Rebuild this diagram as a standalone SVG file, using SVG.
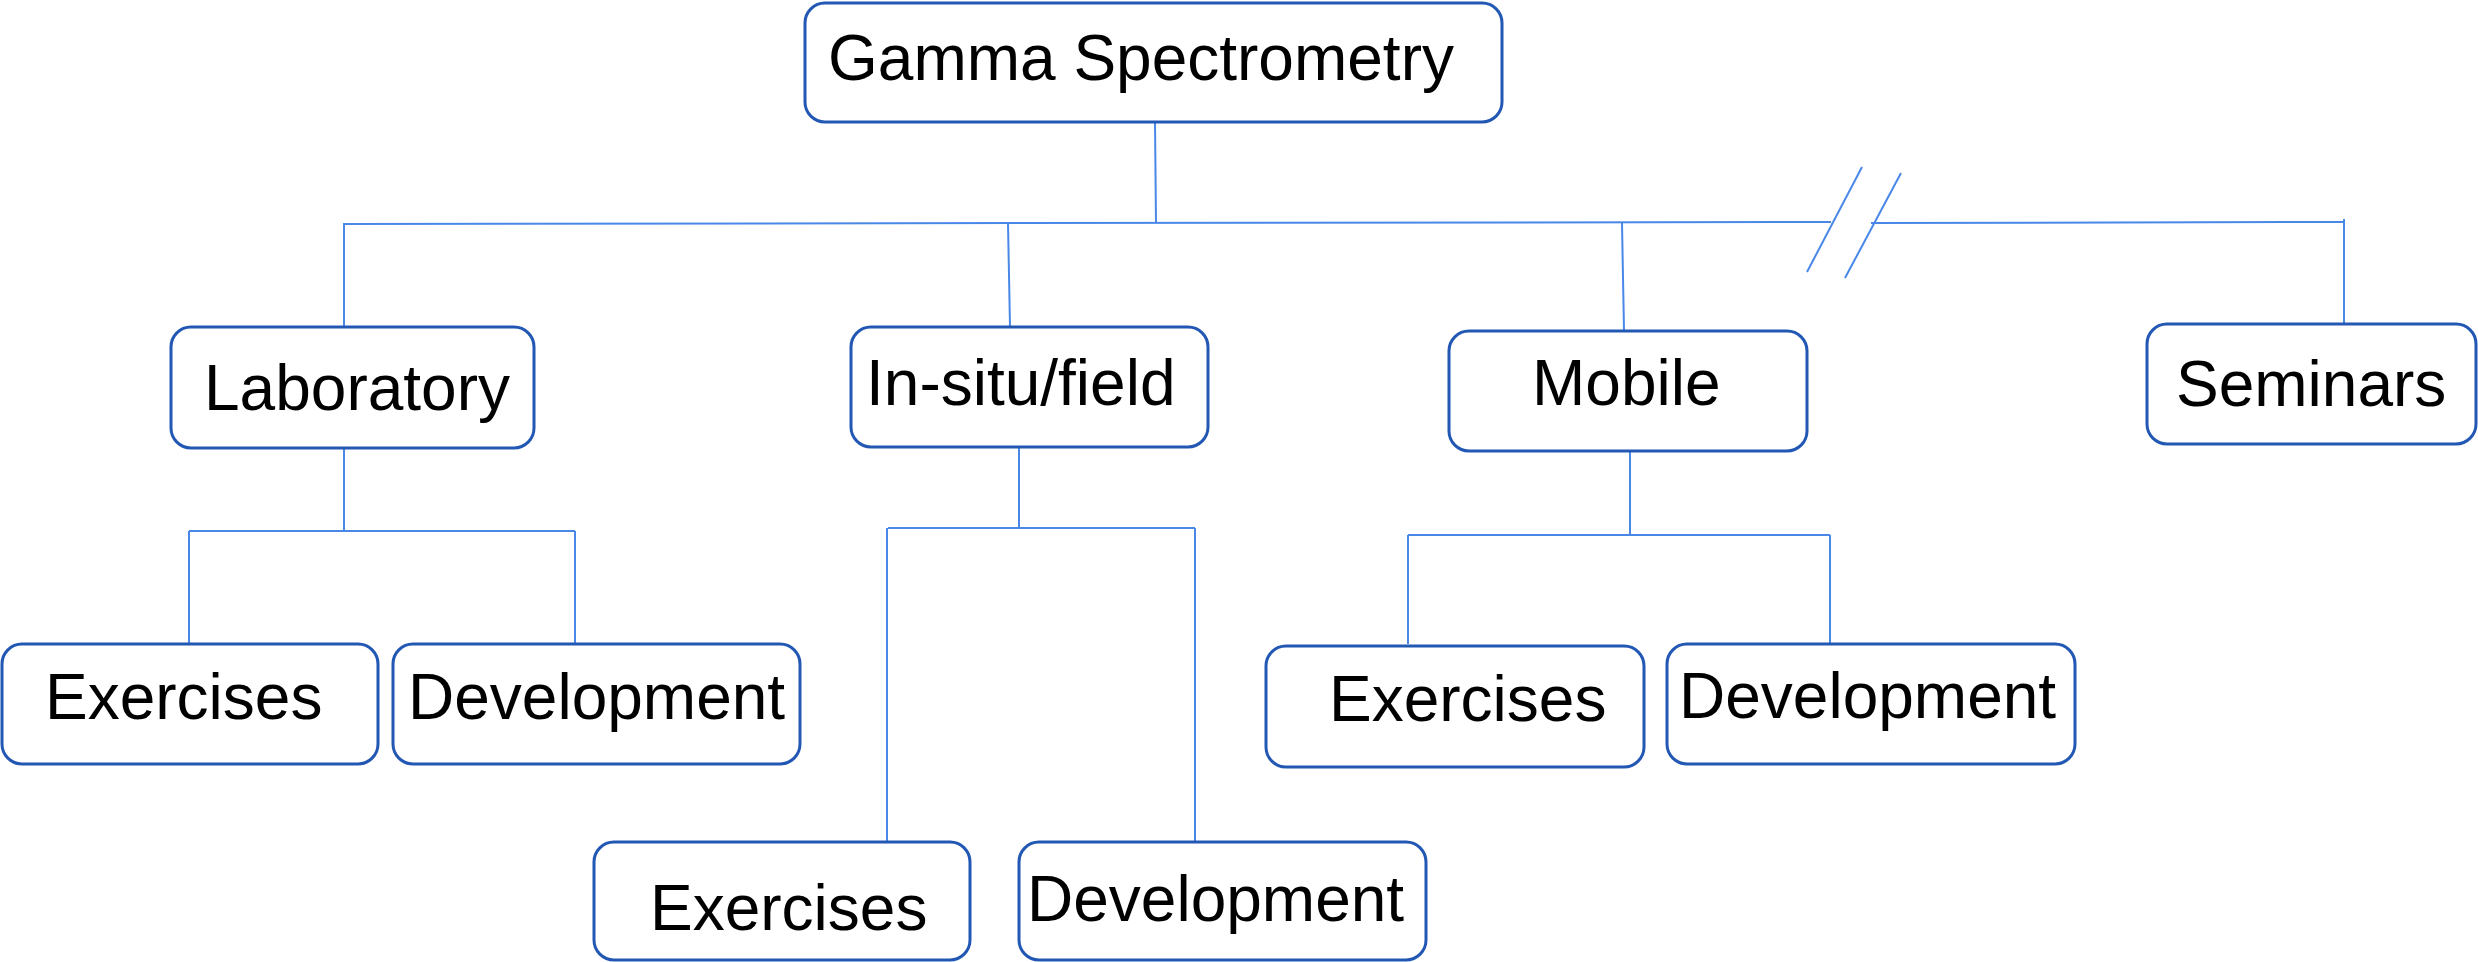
<svg xmlns="http://www.w3.org/2000/svg" width="2478" height="962" viewBox="0 0 2478 962">
<style>
.box{fill:#ffffff;stroke:#2257b4;stroke-width:3}
.lbl{font-family:"Liberation Sans",Arial,sans-serif;font-size:64px;fill:#000000}
.con line{stroke:#4a88e8;stroke-width:2;fill:none}
</style>
<rect x="0" y="0" width="2478" height="962" fill="#ffffff"/>
<g id="connectors" class="con">
<line x1="1155" y1="122" x2="1156" y2="223"/>
<line x1="343" y1="224" x2="1831" y2="222"/>
<line x1="1871" y1="223" x2="2345" y2="222"/>
<line x1="2344" y1="219" x2="2344" y2="324"/>
<line x1="1807" y1="272" x2="1862" y2="167"/>
<line x1="1845" y1="278" x2="1901" y2="173"/>
<line x1="344" y1="224" x2="344" y2="327"/>
<line x1="1008" y1="223" x2="1010" y2="327"/>
<line x1="1622" y1="223" x2="1624" y2="331"/>
<line x1="344" y1="448" x2="344" y2="531"/>
<line x1="189" y1="531" x2="575" y2="531"/>
<line x1="189" y1="531" x2="189" y2="644"/>
<line x1="575" y1="531" x2="575" y2="644"/>
<line x1="1019" y1="447" x2="1019" y2="528"/>
<line x1="888" y1="528" x2="1195" y2="528"/>
<line x1="887" y1="528" x2="887" y2="842"/>
<line x1="1195" y1="528" x2="1195" y2="842"/>
<line x1="1630" y1="451" x2="1630" y2="535"/>
<line x1="1408" y1="535" x2="1830" y2="535"/>
<line x1="1408" y1="535" x2="1408" y2="644"/>
<line x1="1830" y1="535" x2="1830" y2="644"/>
</g>
<g id="gamma"><rect class="box" x="805" y="3" width="697" height="119" rx="20"/><text class="lbl" x="828" y="80">Gamma Spectrometry</text></g>
<g id="laboratory"><rect class="box" x="171" y="327" width="363" height="121" rx="20"/><text class="lbl" x="204" y="410">Laboratory</text></g>
<g id="insitu"><rect class="box" x="851" y="327" width="357" height="120" rx="20"/><text class="lbl" x="866" y="405">In-situ/field</text></g>
<g id="mobile"><rect class="box" x="1449" y="331" width="358" height="120" rx="20"/><text class="lbl" x="1532" y="405">Mobile</text></g>
<g id="seminars"><rect class="box" x="2147" y="324" width="329" height="120" rx="20"/><text class="lbl" x="2176" y="406">Seminars</text></g>
<g id="lab-exercises"><rect class="box" x="2" y="644" width="376" height="120" rx="20"/><text class="lbl" x="45" y="719">Exercises</text></g>
<g id="lab-development"><rect class="box" x="393" y="644" width="407" height="120" rx="20"/><text class="lbl" x="408" y="719">Development</text></g>
<g id="insitu-exercises"><rect class="box" x="594" y="842" width="376" height="118" rx="20"/><text class="lbl" x="650" y="930">Exercises</text></g>
<g id="insitu-development"><rect class="box" x="1019" y="842" width="407" height="118" rx="20"/><text class="lbl" x="1027" y="921">Development</text></g>
<g id="mobile-exercises"><rect class="box" x="1266" y="646" width="378" height="121" rx="20"/><text class="lbl" x="1329" y="721">Exercises</text></g>
<g id="mobile-development"><rect class="box" x="1667" y="644" width="408" height="120" rx="20"/><text class="lbl" x="1679" y="718">Development</text></g>
</svg>
